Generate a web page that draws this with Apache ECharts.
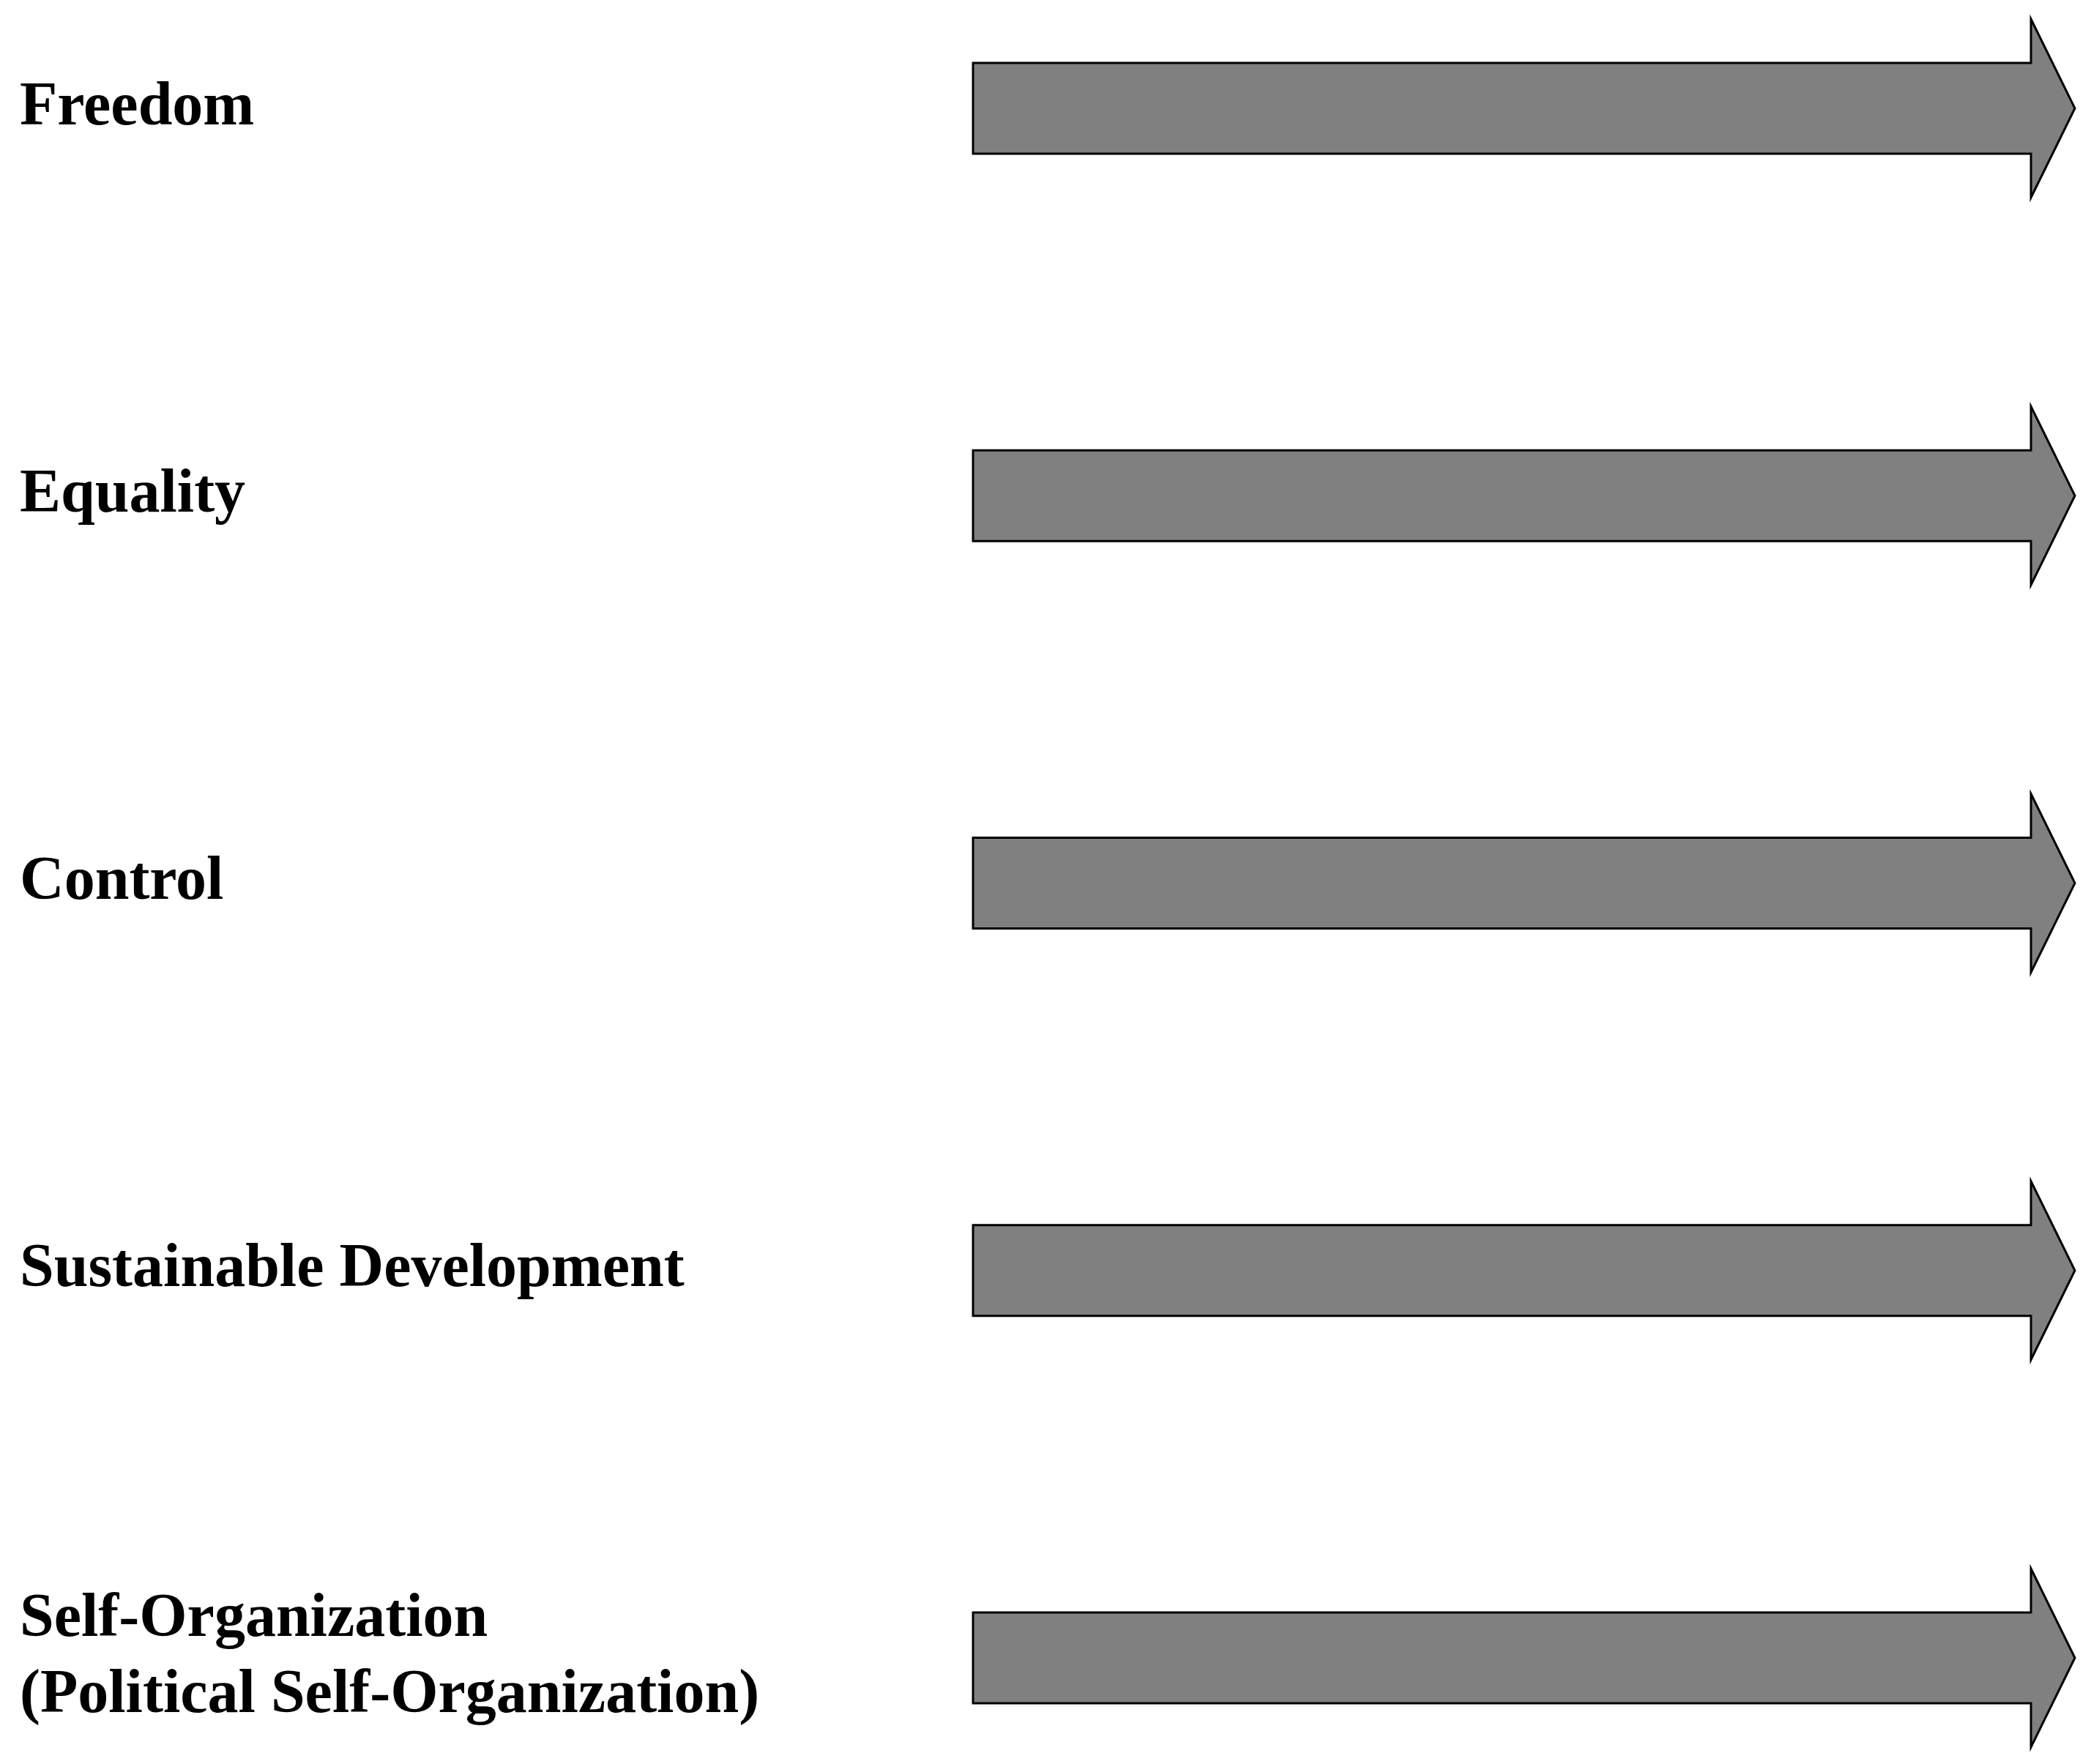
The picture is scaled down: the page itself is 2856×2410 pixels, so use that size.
<!DOCTYPE html>
<html>
<head>
<meta charset="utf-8">
<script src="https://cdn.jsdelivr.net/npm/echarts@6/dist/echarts.min.js"></script>
<style>html,body{margin:0;padding:0;background:#fff}#main{width:2856px;height:2410px}</style>
</head>
<body>
<div id="main"></div>
<script>
// 类别与箭头长度
var categories = ['Freedom', 'Equality', 'Control', 'Sustainable Development',
  'Self-Organization\n(Political Self-Organization)'];
var arrowEnd = [1, 1, 1, 1, 1];

var myChart = echarts.init(document.getElementById('main'));
myChart.setOption({
  animation: false,
  grid: { left: 1329, right: 22, top: 148, bottom: 145 },
  xAxis: { type: 'value', min: 0, max: 1, show: false },
  yAxis: { type: 'category', data: categories, inverse: true, boundaryGap: false, show: false },
  series: [{
    type: 'custom',
    data: arrowEnd.map(function (v, i) { return [v, i]; }),
    renderItem: function (params, api) {
      var start = api.coord([0, api.value(1)]);
      var end = api.coord([api.value(0), api.value(1)]);
      var y = start[1], x0 = start[0], x1 = end[0];
      var bh = 62, hh = 122, hl = 60;
      var xh = x1 - hl;
      return {
        type: 'group',
        children: [{
          type: 'polygon',
          shape: { points: [[x0, y - bh], [xh, y - bh], [xh, y - hh], [x1, y], [xh, y + hh], [xh, y + bh], [x0, y + bh]] },
          style: { fill: '#808080', stroke: '#000', lineWidth: 3 }
        }, {
          type: 'text',
          x: 27, y: y,
          style: {
            text: categories[params.dataIndex],
            fill: '#000',
            font: 'bold 84px "Liberation Serif"',
            lineHeight: 104,
            verticalAlign: 'middle',
            align: 'left'
          }
        }]
      };
    }
  }]
});
</script>
</body>
</html>
